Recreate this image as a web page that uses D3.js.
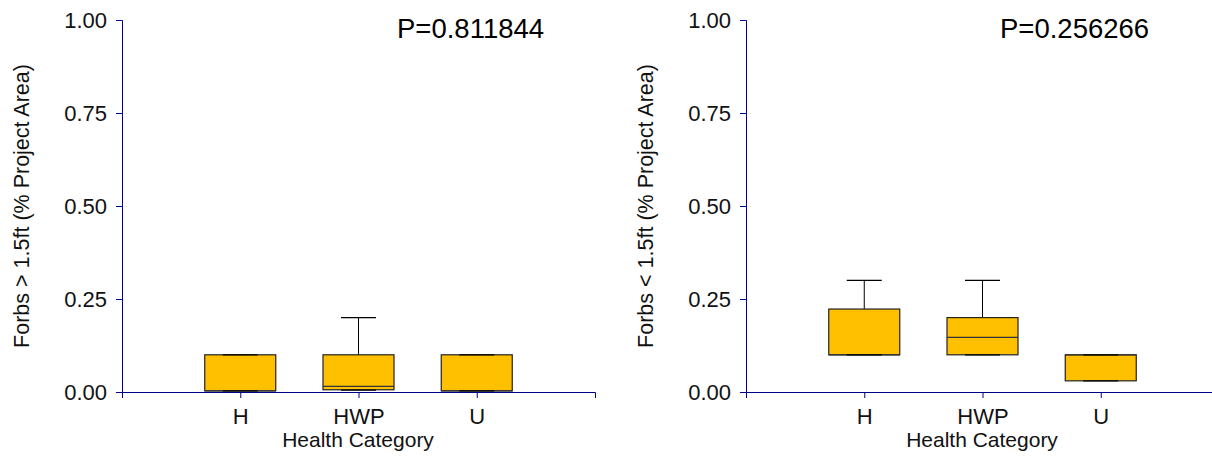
<!DOCTYPE html>
<html>
<head>
<meta charset="utf-8">
<script src="https://cdn.jsdelivr.net/npm/d3@7"></script>
<style>
  body { margin: 0; background: #fff; }
  svg { display: block; font-family: Arial, "Liberation Sans", sans-serif; }
</style>
</head>
<body>
<div id="chart"></div>
<script>
// Box plots of forb cover by health category

const categories = ["H", "HWP", "U"];
const yTicks = [0, 0.25, 0.5, 0.75, 1];

// left panel: Forbs > 1.5ft
const tallLabel = "Forbs > 1.5ft (% Project Area)";
const tallP = "P=0.811844";
const tallLow = [0.003, 0.005, 0.003];
const tallQ1 = [0.003, 0.006, 0.003];
const tallMedian = [0.003, 0.015, 0.003];
const tallQ3 = [0.1, 0.1, 0.1];
const tallHigh = [0.1, 0.2, 0.1];

// right panel: Forbs < 1.5ft
const shortLabel = "Forbs < 1.5ft (% Project Area)";
const shortP = "P=0.256266";
const shortLow = [0.1, 0.1, 0.03];
const shortQ1 = [0.1, 0.1, 0.03];
const shortMedian = [0.1, 0.147, 0.1];
const shortQ3 = [0.223, 0.2, 0.1];
const shortHigh = [0.3, 0.3, 0.1];

const width = 1212, height = 456;
const axisColor = "#00008b";

const svg = d3.select("#chart").append("svg")
  .attr("width", width)
  .attr("height", height);

// Build one panel
function drawPanel(x0, pX, yLabel, pText, low, q1, med, q3, high) {
  const x = d3.scalePoint().domain(categories).range([x0, x0 + 473]).padding(1);
  const y = d3.scaleLinear().domain([0, 1]).range([392, 20]);
  const g = svg.append("g");

  const boxes = categories.map((c, i) => ({
    cat: c, low: low[i], q1: q1[i], med: med[i], q3: q3[i], high: high[i]
  }));
  const boxW = 71, capW = 35;

  const node = g.selectAll(".box")
    .data(boxes)
    .enter().append("g")
    .attr("class", "box")
    .attr("transform", d => "translate(" + x(d.cat) + ",0)");

  // whisker stems
  node.append("line")
    .attr("x1", 0).attr("x2", 0)
    .attr("y1", d => y(d.high)).attr("y2", d => y(d.low))
    .attr("stroke", "#000").attr("stroke-width", 1);

  node.append("rect")
    .attr("x", -boxW / 2)
    .attr("width", boxW)
    .attr("y", d => y(d.q3))
    .attr("height", d => Math.max(1, y(d.q1) - y(d.q3)))
    .attr("fill", "#ffc000")
    .attr("stroke", "#222")
    .attr("stroke-width", 1.2);

  // median
  node.append("line")
    .attr("x1", -boxW / 2).attr("x2", boxW / 2)
    .attr("y1", d => y(d.med)).attr("y2", d => y(d.med))
    .attr("stroke", "#333").attr("stroke-width", 1.2);

  // caps
  node.selectAll(".cap")
    .data(d => [d.low, d.high])
    .enter().append("line")
    .attr("x1", -capW / 2).attr("x2", capW / 2)
    .attr("y1", v => y(v)).attr("y2", v => y(v))
    .attr("stroke", "#000").attr("stroke-width", 1.2);

  // axes
  const xAxis = g.append("g")
    .attr("transform", "translate(0," + y(0) + ")")
    .call(d3.axisBottom(x).tickSize(6).tickSizeOuter(6).tickPadding(10));
  const yAxis = g.append("g")
    .attr("transform", "translate(" + x0 + ",0)")
    .call(d3.axisLeft(y).tickValues(yTicks).tickFormat(d3.format(".2f")).tickSize(6).tickSizeOuter(6).tickPadding(9));

  [xAxis, yAxis].forEach(a => {
    a.select(".domain").attr("stroke", axisColor);
    a.selectAll(".tick line").attr("stroke", axisColor);
    a.selectAll(".tick text").attr("fill", "#111").style("font-size", "22px");
  });
  yAxis.selectAll(".tick text").attr("dy", "0.36em");

  g.append("text")
    .attr("x", x0 + 236)
    .attr("y", 447)
    .attr("text-anchor", "middle")
    .style("font-size", "21px")
    .attr("fill", "#111")
    .text("Health Category");

  g.append("text")
    .attr("transform", "translate(" + (x0 - 93) + "," + y(0.5) + ") rotate(-90)")
    .attr("text-anchor", "middle")
    .style("font-size", "21.5px")
    .attr("fill", "#111")
    .text(yLabel);

  g.append("text")
    .attr("x", pX)
    .attr("y", 38)
    .style("font-size", "27.5px")
    .attr("fill", "#000")
    .text(pText);
}

drawPanel(122, 397, tallLabel, tallP, tallLow, tallQ1, tallMedian, tallQ3, tallHigh);
drawPanel(746, 1000, shortLabel, shortP, shortLow, shortQ1, shortMedian, shortQ3, shortHigh);
</script>
</body>
</html>
